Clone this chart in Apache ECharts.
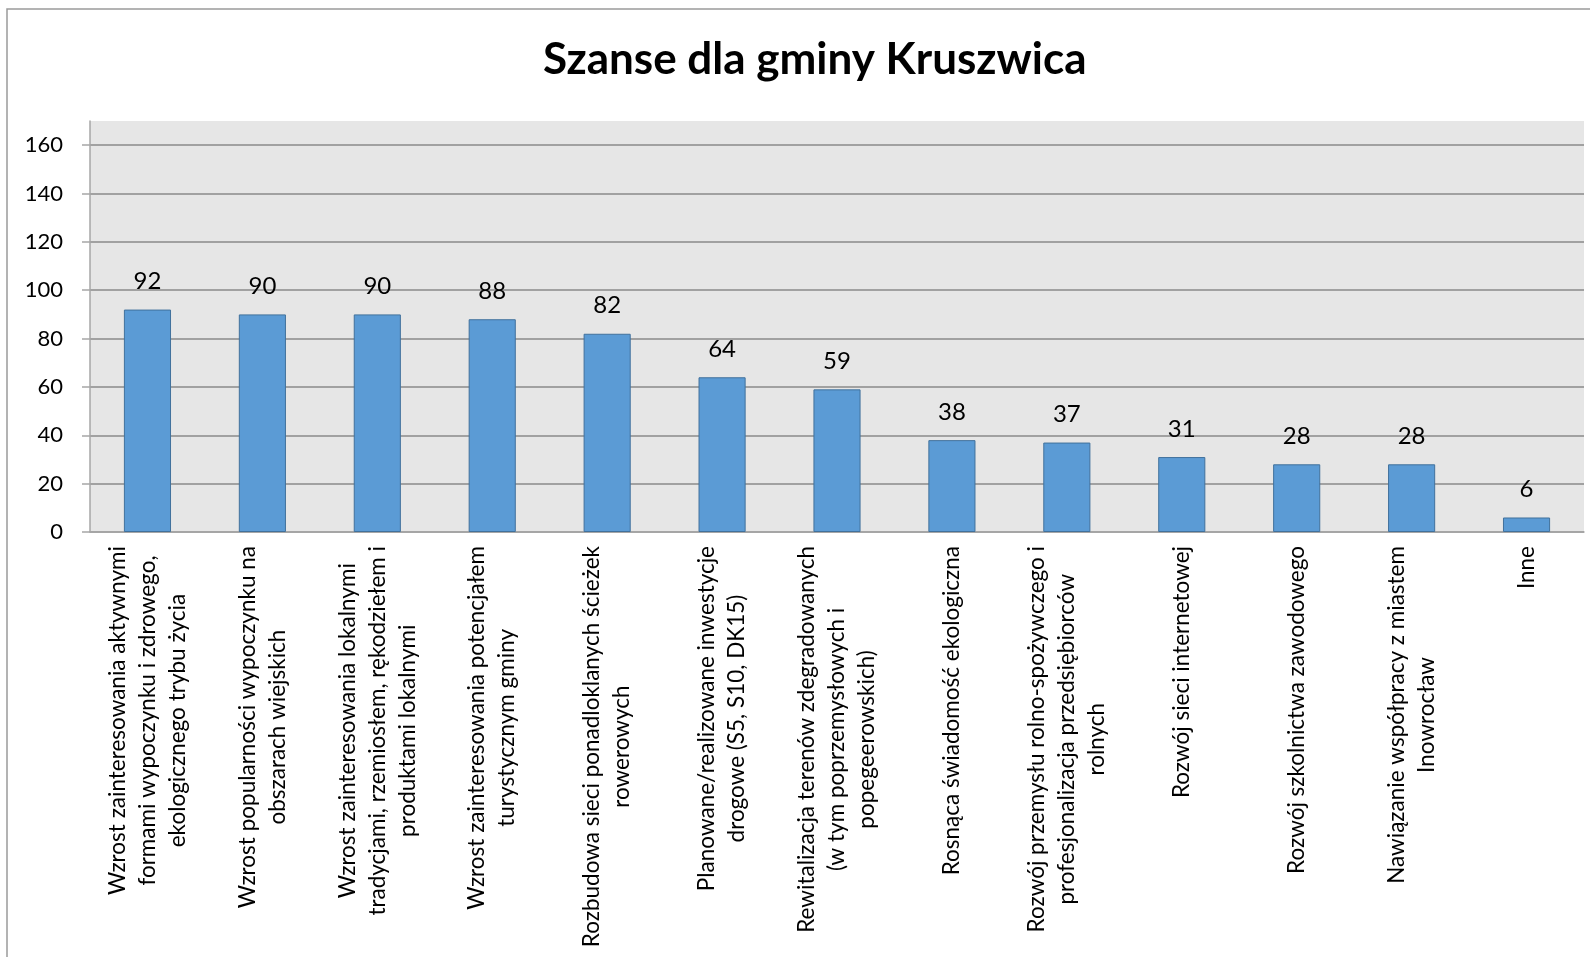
<!DOCTYPE html>
<html lang="pl">
<head>
  <meta charset="UTF-8">
  <script src="https://cdn.jsdelivr.net/npm/echarts@6/dist/echarts.min.js"></script>
  <title>Szanse dla gminy Kruszwica</title>
  <style>
    * { margin: 0; padding: 0; }
    html, body { width: 100%; height: 100%; background: #fff; }
    #chartbox { width: 1590px; height: 957px; }
  </style>
</head>
<body>
<div id="chartbox"></div>
<script>
  // kategorie (z podziałem na linie jak w oryginale)
  const categories = [
    'Wzrost zainteresowania aktywnymi\nformami wypoczynku i zdrowego,\nekologicznego trybu życia',
    'Wzrost popularności wypoczynku na\nobszarach wiejskich',
    'Wzrost zainteresowania lokalnymi\ntradycjami, rzemiosłem, rękodziełem i\nproduktami lokalnymi',
    'Wzrost zainteresowania potencjałem\nturystycznym gminy',
    'Rozbudowa sieci ponadloklanych ścieżek\nrowerowych',
    'Planowane/realizowane inwestycje\ndrogowe (S5, S10, DK15)',
    'Rewitalizacja terenów zdegradowanych\n(w tym poprzemysłowych i\npopegeerowskich)',
    'Rosnąca świadomość ekologiczna',
    'Rozwój przemysłu rolno-spożywczego i\nprofesjonalizacja przedsiębiorców\nrolnych',
    'Rozwój sieci internetowej',
    'Rozwój szkolnictwa zawodowego',
    'Nawiązanie współpracy z miastem\nInowrocław',
    'Inne'
  ]
  const values = [92, 90, 90, 88, 82, 64, 59, 38, 37, 31, 28, 28, 6]
  const yTicks = [0, 20, 40, 60, 80, 100, 120, 140, 160]

  const font = 'Lato, "Open Sans", sans-serif'
  const axisGray = '#a6a6a6'

  let myChart = echarts.init(document.getElementById('chartbox'))
  let option = {
    backgroundColor: '#fff',
    animation: false,
    title: {
      text: 'Szanse dla gminy Kruszwica',
      left: 538,
      top: 33,
      textStyle: {
        fontFamily: font,
        fontWeight: 'bold',
        fontSize: 44,
        color: '#000'
      }
    },
    // ramka wykresu
    graphic: [{
      type: 'rect',
      shape: { x: 7, y: 9, width: 1700, height: 1100 },
      style: { fill: 'none', stroke: '#9a9a9a', lineWidth: 1.5 },
      silent: true
    }],
    grid: {
      left: 90,
      right: 6,
      top: 121,
      bottom: 425,
      show: true,
      backgroundColor: '#e6e6e6',
      borderWidth: 0
    },
    xAxis: {
      type: 'category',
      data: categories,
      axisLine: { lineStyle: { color: axisGray, width: 1.5 } },
      axisTick: { length: 8, lineStyle: { color: axisGray, width: 1.5 } },
      axisLabel: {
        interval: 0,
        rotate: 90,
        margin: 14,
        formatter: function (v) {
          return v.split('\n').map(s => '{c|' + s + '}').join('\n')
        },
        rich: {
          c: {
            align: 'center',
            fontFamily: font,
            fontSize: 22.5,
            lineHeight: 30,
            color: '#000'
          }
        }
      }
    },
    yAxis: {
      type: 'value',
      min: 0,
      max: 170,
      axisLine: { show: true, lineStyle: { color: axisGray, width: 1.5 } },
      axisTick: {
        show: true,
        length: 8,
        customValues: yTicks,
        lineStyle: { color: axisGray, width: 1.5 }
      },
      axisLabel: {
        customValues: yTicks,
        margin: 27,
        fontFamily: font,
        fontSize: 22,
        color: '#000'
      },
      splitLine: {
        show: true,
        lineStyle: { color: '#8a8a8a', width: 1.5 }
      }
    },
    series: [{
      type: 'bar',
      data: values,
      barWidth: '41%',
      itemStyle: {
        color: '#5b9bd5',
        borderColor: '#41719c',
        borderWidth: 1
      },
      label: {
        show: true,
        position: 'top',
        distance: 16,
        fontFamily: font,
        fontSize: 24,
        color: '#000'
      }
    }]
  }
  myChart.setOption(option)
</script>
</body>
</html>
